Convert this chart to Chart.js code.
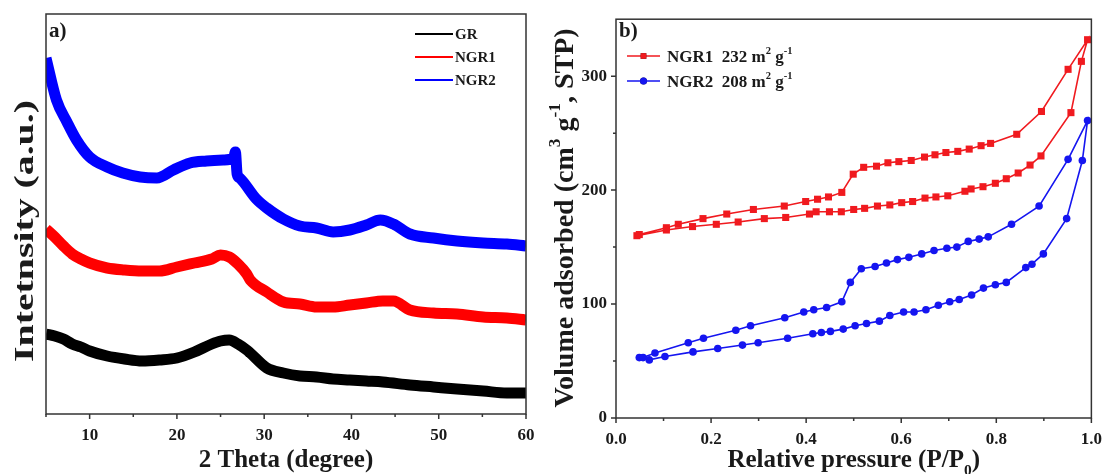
<!DOCTYPE html>
<html>
<head>
<meta charset="utf-8">
<script src="https://cdn.jsdelivr.net/npm/chart.js@4.4.1/dist/chart.umd.min.js"></script>
<style>
  body { margin: 0; background: #fff; }
  #wrap { position: relative; width: 1113px; height: 474px; overflow: hidden; background: #fff; }
  #xrdChart { position: absolute; left: 0; top: 0; }
  #betChart { position: absolute; left: 540px; top: 0; }
</style>
</head>
<body>
<div id="wrap">
  <canvas id="xrdChart" width="556" height="474"></canvas>
  <canvas id="betChart" width="573" height="474"></canvas>
</div>
<script>
// ---- a) XRD patterns (curves offset vertically, arbitrary units) ----
const xrdNames = ['GR', 'NGR1', 'NGR2'];
const xrdColors = ['#000000', '#ff0000', '#0000ff'];

const grTheta = [5,6,7,8,9,10,12,14,16,18,20,22,24,25,26,27,28,28.4,30.3,32.2,34.1,36,37.9,39.8,41.7,43.6,46.7,49.4,52.1,55.1,57.8,60];
const grInt   = [80,78,75,70,67,63,58,55,53,54,56,62,70,73,74,70,64,61,46,41,38,37,35,34,33,32,29,27,25,23,21,21];

const ngr1Theta = [5,6,7,8,9,10,12,14,16,18,20,22,24,25,26,27,28,28.4,30.3,32.2,34.1,36,37.9,39.8,41.7,43.6,44.8,46.7,49.4,52.1,55.1,57.8,60];
const ngr1Int   = [185,177,168,160,155,151,146,144,143,143,147,151,155,159,157,150,140,134,122,112,110,107,107,109,111,113,113,104,101,100,97,96,94];

const ngr2Theta = [5,6.2,7.4,8.5,10,12,13.8,15.8,17.7,19.6,21.5,23.4,25.3,26.5,26.7,26.9,27.2,29.1,30.3,32.2,34.1,36,37.9,39.8,41.7,43.3,44.8,46.7,49.4,52.1,55.1,57.8,60];
const ngr2Int   = [356,314,292,274,257,247,241,237,236,244,251,253,254,256,262,240,236,215,206,195,188,186,182,184,189,194,190,180,176,173,171,170,168];

const thetaTicks = [10,20,30,40,50,60];
const thetaMinor = [5,15,25,35,45,55];

// ---- b) N2 isotherms (adsorption branch, then desorption branch) ----
const betNames = ['NGR1', 'NGR2'];
const betArea = [232, 208];
const betColors = ['#f01a1f', '#1515f0'];
const betMarkers = ['rect', 'circle'];

const ngr1AdsP = [0.044,0.106,0.161,0.211,0.257,0.312,0.357,0.407,0.421,0.449,0.474,0.500,0.523,0.550,0.576,0.601,0.624,0.650,0.673,0.698,0.734,0.747,0.772,0.798,0.821,0.846,0.871,0.894,0.957,0.979,0.992];
const ngr1AdsV = [160,165,168,170,172,175,176,179,181,181,181,183,184,186,187,189,190,193,194,195,199,201,203,206,210,215,222,230,268,313,332];
const ngr1DesP = [0.951,0.895,0.843,0.788,0.768,0.743,0.719,0.694,0.671,0.649,0.621,0.595,0.572,0.548,0.521,0.499,0.475,0.447,0.424,0.399,0.354,0.289,0.233,0.183,0.131,0.106,0.049];
const ngr1DesV = [306,269,249,241,239,236,234,233,231,229,226,225,224,221,220,214,198,194,192,190,186,183,179,175,170,167,161];

const ngr2AdsP = [0.049,0.070,0.103,0.162,0.214,0.266,0.299,0.361,0.414,0.432,0.451,0.478,0.503,0.527,0.554,0.576,0.605,0.627,0.652,0.678,0.702,0.722,0.748,0.773,0.798,0.821,0.862,0.875,0.899,0.948,0.981,0.992];
const ngr2AdsV = [53,51,54,58,61,64,66,70,74,75,76,78,81,83,85,90,93,93,95,99,102,104,108,114,117,119,132,135,144,175,226,261];
const ngr2DesP = [0.951,0.890,0.832,0.783,0.764,0.741,0.717,0.696,0.669,0.643,0.616,0.592,0.569,0.545,0.516,0.493,0.475,0.443,0.416,0.395,0.355,0.283,0.252,0.184,0.152,0.082,0.057];
const ngr2DesV = [227,186,170,159,157,155,150,149,147,144,141,139,136,133,131,119,102,97,95,93,88,81,77,70,66,57,53];

const pTicks = [0, 0.2, 0.4, 0.6, 0.8, 1.0];
const pMinor = [0.1, 0.3, 0.5, 0.7, 0.9];
const vTicks = [0, 100, 200, 300];
const vMinor = [50, 150, 250];

const SERIF = '"Liberation Serif", "Times New Roman", serif';
const INK = '#1a1a1a';

const pairs = (xs, ys) => xs.map((x, i) => ({x, y: ys[i]}));

// draw a run of text with optional sup/sub parts: [[text, kind], ...]
function richText(ctx, parts, x, y, size, align) {
  const font = s => `bold ${s}px ${SERIF}`;
  let w = 0;
  parts.forEach(([t, k]) => { ctx.font = font(k ? size * 0.62 : size); w += ctx.measureText(t).width; });
  let cx = align === 'center' ? x - w / 2 : x;
  ctx.textBaseline = 'alphabetic';
  ctx.textAlign = 'left';
  parts.forEach(([t, k]) => {
    const s = k ? size * 0.62 : size;
    ctx.font = font(s);
    const dy = k === 'sup' ? -size * 0.45 : k === 'sub' ? size * 0.32 : 0;
    ctx.fillText(t, cx, y + dy);
    cx += ctx.measureText(t).width;
  });
}

// box frame + outward major/minor tick marks
const frameTicks = {
  id: 'frameTicks',
  afterDatasetsDraw(chart, args, o) {
    const {ctx, chartArea: a, scales: {x, y}} = chart;
    ctx.save();
    ctx.strokeStyle = '#333';
    ctx.lineWidth = 1.5;
    ctx.strokeRect(a.left, a.top, a.right - a.left, a.bottom - a.top);
    ctx.beginPath();
    const xt = (v, len) => { const p = x.getPixelForValue(v); ctx.moveTo(p, a.bottom); ctx.lineTo(p, a.bottom + len); };
    const yt = (v, len) => { const p = y.getPixelForValue(v); ctx.moveTo(a.left, p); ctx.lineTo(a.left - len, p); };
    o.xMajor.forEach(v => xt(v, 5));
    o.xMinor.forEach(v => xt(v, 3));
    (o.yMajor || []).forEach(v => yt(v, 5));
    (o.yMinor || []).forEach(v => yt(v, 3));
    ctx.stroke();
    ctx.restore();
  }
};

// axis titles, panel tag and legend
const decorations = {
  id: 'decorations',
  afterDraw(chart, args, o) {
    const ctx = chart.ctx;
    const a = chart.chartArea;
    ctx.save();
    ctx.fillStyle = INK;
    richText(ctx, o.xTitle, (a.left + a.right) / 2, 467, 25, 'center');
    ctx.save();
    ctx.translate(o.yTitleX, o.yTitleY);
    ctx.rotate(-Math.PI / 2);
    ctx.scale(o.yStretch, 1);
    richText(ctx, o.yTitle, 0, 0, o.yTitleSize, 'center');
    ctx.restore();
    ctx.font = `bold 21px ${SERIF}`;
    ctx.fillText(o.tag, a.left + 3, 37);
    o.legend(ctx, chart);
    ctx.restore();
  }
};

const tickFont = {family: SERIF, size: 17, weight: 'bold'};

// ---------- panel a ----------
const xrdSeries = [pairs(grTheta, grInt), pairs(ngr1Theta, ngr1Int), pairs(ngr2Theta, ngr2Int)];

new Chart(document.getElementById('xrdChart'), {
  type: 'scatter',
  data: {
    datasets: xrdSeries.map((d, i) => ({
      label: xrdNames[i],
      data: d,
      showLine: true,
      borderColor: xrdColors[i],
      borderWidth: 11,
      pointRadius: 0,
      cubicInterpolationMode: 'monotone',
      clip: 0
    }))
  },
  options: {
    responsive: false,
    animation: false,
    layout: {padding: {left: 0, top: 14, right: 30, bottom: 0}},
    scales: {
      x: {
        type: 'linear', min: 5, max: 60,
        afterBuildTicks: s => { s.ticks = thetaTicks.map(v => ({value: v})); },
        afterFit: s => { s.height = 60; },
        grid: {display: false, drawTicks: false},
        border: {display: false},
        ticks: {font: tickFont, color: INK, padding: 11, maxRotation: 0}
      },
      y: {
        type: 'linear', min: 0, max: 400,
        afterFit: s => { s.width = 46; },
        grid: {display: false, drawTicks: false},
        border: {display: false},
        ticks: {display: false}
      }
    },
    plugins: {
      legend: {display: false},
      tooltip: {enabled: false},
      frameTicks: {xMajor: thetaTicks, xMinor: thetaMinor},
      decorations: {
        xTitle: [['2 Theta (degree)']],
        yTitle: [['Intetnsity (a.u.)']],
        yTitleX: 33, yTitleY: 231, yTitleSize: 28, yStretch: 1.42,
        tag: 'a)',
        legend(ctx, chart) {
          chart.data.datasets.forEach((ds, i) => {
            const y = 34 + i * 23;
            ctx.strokeStyle = ds.borderColor;
            ctx.lineWidth = 2;
            ctx.beginPath(); ctx.moveTo(415, y); ctx.lineTo(453, y); ctx.stroke();
            ctx.fillStyle = INK;
            ctx.font = `bold 15px ${SERIF}`;
            ctx.textBaseline = 'middle';
            ctx.fillText(ds.label, 455, y + 1);
          });
        }
      }
    }
  },
  plugins: [frameTicks, decorations]
});

// ---------- panel b ----------
const betSeries = [
  pairs(ngr1AdsP, ngr1AdsV).concat(pairs(ngr1DesP, ngr1DesV)),
  pairs(ngr2AdsP, ngr2AdsV).concat(pairs(ngr2DesP, ngr2DesV))
];

new Chart(document.getElementById('betChart'), {
  type: 'scatter',
  data: {
    datasets: betSeries.map((d, i) => ({
      label: betNames[i],
      data: d,
      showLine: true,
      borderColor: betColors[i],
      backgroundColor: betColors[i],
      borderWidth: 1.6,
      pointStyle: betMarkers[i],
      pointRadius: i === 0 ? 5 : 3.8,
      pointBorderWidth: 0,
      clip: false
    }))
  },
  options: {
    responsive: false,
    animation: false,
    layout: {padding: {left: 0, top: 14, right: 16, bottom: 0}},
    scales: {
      x: {
        type: 'linear', min: 0, max: 1,
        afterBuildTicks: s => { s.ticks = pTicks.map(v => ({value: v})); },
        afterFit: s => { s.height = 56; },
        grid: {display: false, drawTicks: false},
        border: {display: false},
        ticks: {font: tickFont, color: INK, padding: 11, maxRotation: 0, callback: v => v.toFixed(1)}
      },
      y: {
        type: 'linear', min: 0, max: 350,
        afterBuildTicks: s => { s.ticks = vTicks.map(v => ({value: v})); },
        afterFit: s => { s.width = 76; },
        grid: {display: false, drawTicks: false},
        border: {display: false},
        ticks: {font: tickFont, color: INK, padding: 9}
      }
    },
    plugins: {
      legend: {display: false},
      tooltip: {enabled: false},
      frameTicks: {xMajor: pTicks, xMinor: pMinor, yMajor: vTicks, yMinor: vMinor},
      decorations: {
        xTitle: [['Relative pressure (P/P'], ['0', 'sub'], [')']],
        yTitle: [['Volume adsorbed (cm'], ['3', 'sup'], [' g'], ['-1', 'sup'], [', STP)']],
        yTitleX: 33, yTitleY: 218, yTitleSize: 28, yStretch: 1,
        tag: 'b)',
        legend(ctx, chart) {
          chart.data.datasets.forEach((ds, i) => {
            const y = 56 + i * 25;
            ctx.strokeStyle = ds.borderColor;
            ctx.lineWidth = 1.6;
            ctx.beginPath(); ctx.moveTo(87, y); ctx.lineTo(120, y); ctx.stroke();
            Chart.helpers.drawPoint(ctx, {pointStyle: ds.pointStyle, radius: i === 0 ? 4 : 3.5, borderWidth: 0}, 103.5, y);
            ctx.fillStyle = ds.backgroundColor;
            ctx.fill();
            ctx.fillStyle = INK;
            richText(ctx, [[ds.label + '  ' + betArea[i] + ' m'], ['2', 'sup'], [' g'], ['-1', 'sup']], 127, y + 6, 17, 'left');
          });
        }
      }
    }
  },
  plugins: [frameTicks, decorations]
});
</script>
</body>
</html>
